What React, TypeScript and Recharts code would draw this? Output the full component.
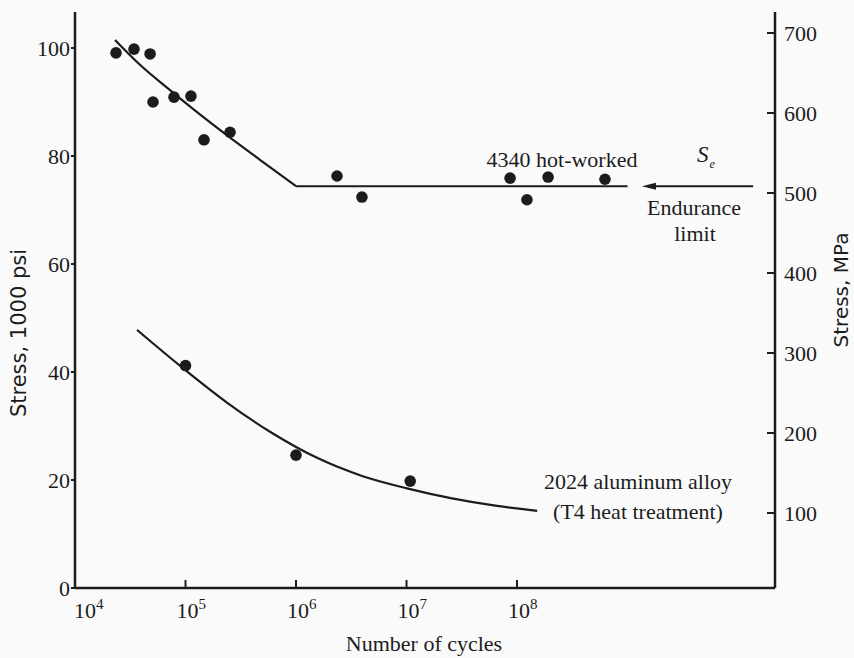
import React from 'react'
import { ComposedChart, Line, Scatter, XAxis, YAxis, ReferenceLine } from 'recharts'

// 4340 hot-worked steel test points (cycles, stress in 1000 psi)
const steelCycles = [2.35e4, 3.42e4, 4.78e4, 5.08e4, 7.87e4, 1.12e5, 1.47e5, 2.53e5, 2.35e6, 3.95e6, 8.65e7, 1.23e8, 1.91e8, 6.25e8]
const steelStress = [99.1, 99.8, 98.9, 90.0, 90.9, 91.1, 83.0, 84.4, 76.3, 72.4, 75.9, 71.9, 76.1, 75.7]

// fitted S-N curve for 4340, falling part then the endurance plateau
const steelCurveCycles = [2.3e4, 3.87e4, 7.24e4, 1.35e5, 2.53e5, 4.72e5, 1e6]
const steelCurveStress = [101.5, 96.9, 92.2, 87.7, 83.4, 79.3, 74.4]
const plateauCycles = [1e6, 1e9]
const plateauStress = [74.4, 74.4]

// 2024 aluminium alloy (T4)
const alumCycles = [1.0e5, 1.0e6, 1.08e7]
const alumStress = [41.2, 24.6, 19.8]
const alumCurveCycles = [3.64e4, 9.3e4, 2.37e5, 6.07e5, 1.55e6, 3.96e6, 1.01e7, 2.58e7, 6.59e7, 1.52e8]
const alumCurveStress = [47.8, 40.85, 34.35, 28.7, 24.1, 20.75, 18.45, 16.6, 15.2, 14.3]

// endurance limit arrow (from right to left)
const arrowCycles = [1.37e10, 1.35e9]
const enduranceLimit = 74.4

const cycleTicks = [1e4, 1e5, 1e6, 1e7, 1e8]
const psiTicks = [0, 20, 40, 60, 80, 100]
const mpaTicks = [100, 200, 300, 400, 500, 600, 700]

const INK = '#1c1c1c'
const SERIF = '"Liberation Serif", "Times New Roman", serif'
const SANS = '"DejaVu Sans", sans-serif'

const toPoints = (xs: number[], ys: number[]) => xs.map((c, i) => ({ cycles: c, ksi: ys[i] }))

const steelPoints = toPoints(steelCycles, steelStress)
const steelCurve = toPoints(steelCurveCycles, steelCurveStress)
const plateau = toPoints(plateauCycles, plateauStress)
const alumPoints = toPoints(alumCycles, alumStress)
const alumCurve = toPoints(alumCurveCycles, alumCurveStress)

const CycleTick = (props: any) => {
  const { x, y, payload, index } = props
  const exp = Math.round(Math.log10(payload.value))
  const startX = index === 0 ? x - 1 : x - 9
  return (
    <g>
      {index > 0 && <line x1={x} y1={y} x2={x} y2={y - 8} stroke={INK} strokeWidth={2} />}
      <text x={startX} y={y + 30} fontFamily={SERIF} fontSize={22} fill={INK}>
        10<tspan dy={-9} fontSize={15}>{exp}</tspan>
      </text>
    </g>
  )
}

const MpaTick = (props: any) => {
  const { x, y, payload } = props
  return (
    <g>
      <line x1={x - 8} y1={y} x2={x} y2={y} stroke={INK} strokeWidth={2} />
      <text x={x + 9} y={y} dy="0.35em" fontFamily={SERIF} fontSize={22} fill={INK}>
        {payload.value}
      </text>
    </g>
  )
}

const Dot = (props: any) => <circle cx={props.cx} cy={props.cy} r={5.8} fill={INK} />

const Arrow = (props: any) => {
  const { x1, y1, x2, y2 } = props
  // arrow head sits on the left end
  const left = Math.min(x1, x2)
  const right = Math.max(x1, x2)
  const y = (y1 + y2) / 2
  return (
    <g>
      <line x1={left + 10} y1={y} x2={right} y2={y} stroke={INK} strokeWidth={2} />
      <polygon points={`${left},${y} ${left + 14},${y - 3.5} ${left + 14},${y + 3.5}`} fill={INK} />
    </g>
  )
}

const App: React.FC = () => {
  return (
    <div style={{ position: 'relative', width: 854, height: 658, background: '#fafafa' }}>
      <style>{'body{margin:0}'}</style>
      <ComposedChart width={854} height={658} margin={{ top: 12, right: 0, bottom: 0, left: 0 }}>
        <XAxis
          dataKey="cycles"
          type="number"
          scale="log"
          domain={[1e4, 2.16e10]}
          ticks={cycleTicks}
          interval={0}
          allowDataOverflow
          height={70}
          axisLine={{ stroke: INK, strokeWidth: 2.5 }}
          tickLine={false}
          tickSize={0}
          tickMargin={0}
          tick={<CycleTick />}
        />
        <YAxis
          yAxisId="psi"
          dataKey="ksi"
          type="number"
          domain={[0, 106.67]}
          ticks={psiTicks}
          interval={0}
          allowDataOverflow
          width={75}
          axisLine={{ stroke: INK, strokeWidth: 2.5 }}
          tickLine={{ stroke: INK, strokeWidth: 2 }}
          tickSize={4}
          tickMargin={1}
          tick={{ fontSize: 22, fill: INK, fontFamily: SERIF }}
        />
        <YAxis
          yAxisId="mpa"
          orientation="right"
          type="number"
          domain={[6.25, 726.25]}
          ticks={mpaTicks}
          interval={0}
          allowDataOverflow
          width={79}
          axisLine={{ stroke: INK, strokeWidth: 2.5 }}
          tickLine={false}
          tickSize={0}
          tickMargin={0}
          tick={<MpaTick />}
        />

        <Line yAxisId="psi" data={steelCurve} dataKey="ksi" type="monotone" stroke={INK} strokeWidth={2.2} dot={false} isAnimationActive={false} />
        <Line yAxisId="psi" data={plateau} dataKey="ksi" type="linear" stroke={INK} strokeWidth={2.2} dot={false} isAnimationActive={false} />
        <Line yAxisId="psi" data={alumCurve} dataKey="ksi" type="monotone" stroke={INK} strokeWidth={2.2} dot={false} isAnimationActive={false} />
        <Scatter yAxisId="psi" data={steelPoints} dataKey="ksi" shape={<Dot />} isAnimationActive={false} />
        <Scatter yAxisId="psi" data={alumPoints} dataKey="ksi" shape={<Dot />} isAnimationActive={false} />

        <ReferenceLine
          yAxisId="psi"
          segment={[
            { x: arrowCycles[0], y: enduranceLimit },
            { x: arrowCycles[1], y: enduranceLimit },
          ]}
          shape={(p: any) => <Arrow {...p} />}
        />
      </ComposedChart>

      {/* titles and annotations */}
      <svg width={854} height={658} style={{ position: 'absolute', left: 0, top: 0, pointerEvents: 'none' }}>
        <g fontFamily={SERIF} fontSize={22} fill={INK} textAnchor="middle">
          <text x={562} y={167}>4340 hot-worked</text>
          <text x={694} y={215}>Endurance</text>
          <text x={695} y={241}>limit</text>
          <text x={638} y={489}>2024 aluminum alloy</text>
          <text x={638} y={519}>(T4 heat treatment)</text>
          <text x={424} y={651}>Number of cycles</text>
        </g>
        <text x={697} y={162} fontFamily={SERIF} fontStyle="italic" fontSize={23} fill={INK}>
          S<tspan dx={1} dy={6} fontSize={12}>e</tspan>
        </text>
        <text
          x={19}
          y={333}
          transform="rotate(-90 19 333)"
          textAnchor="middle"
          dominantBaseline="central"
          fontFamily={SANS}
          fontSize={21}
          fill={INK}
        >
          Stress, 1000 psi
        </text>
        <text
          x={841}
          y={290}
          transform="rotate(-90 841 290)"
          textAnchor="middle"
          dominantBaseline="central"
          fontFamily={SANS}
          fontSize={20}
          fill={INK}
        >
          Stress, MPa
        </text>
      </svg>
    </div>
  )
}

export default App
